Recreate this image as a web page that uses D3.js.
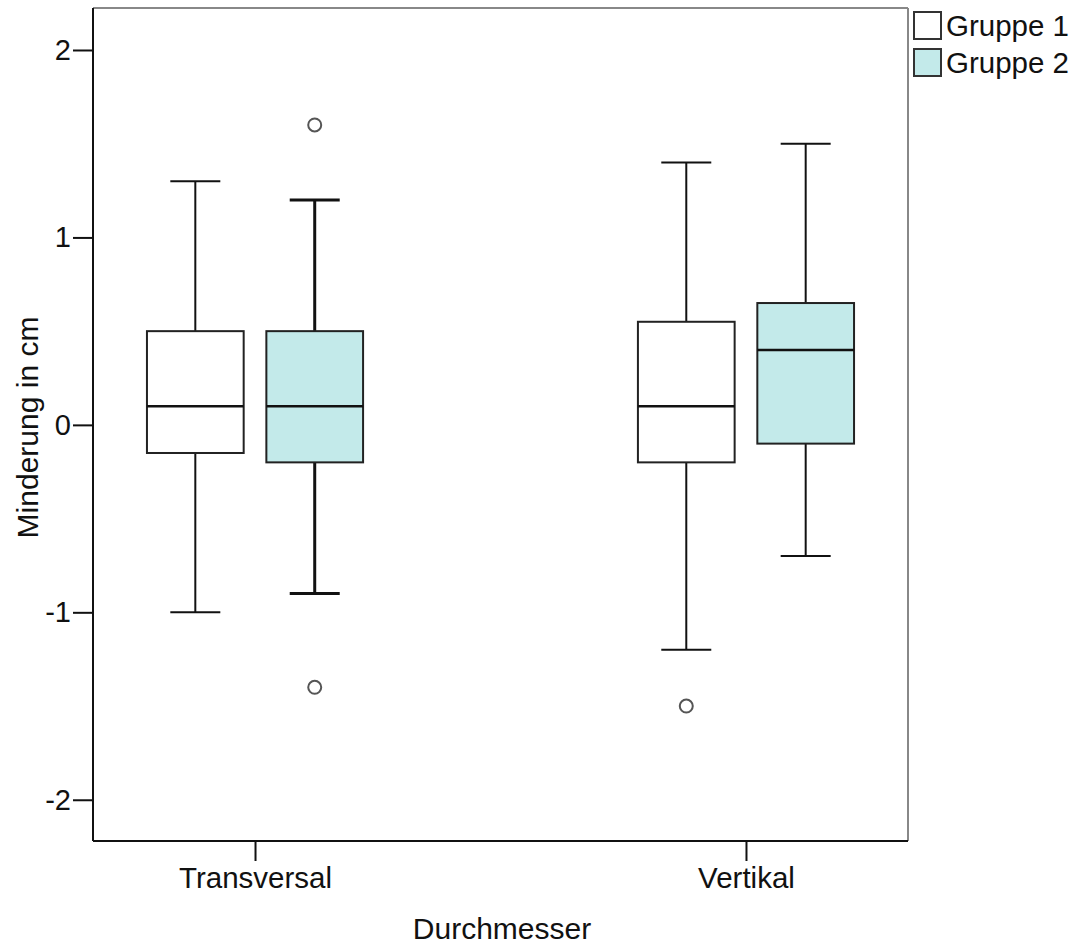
<!DOCTYPE html>
<html>
<head>
<meta charset="utf-8">
<script src="https://cdn.jsdelivr.net/npm/d3@7"></script>
<style>
  html, body { margin: 0; padding: 0; background: #fff; }
  svg { display: block; font-family: "Liberation Sans", Arial, sans-serif; }
</style>
</head>
<body>
<svg id="chart" width="1081" height="947"></svg>
<script>
// Categories and groups
const categories = ["Transversal", "Vertikal"];
const groups = ["Gruppe 1", "Gruppe 2"];
const groupColors = ["#ffffff", "#c3eaea"];
const yTicks = [-2, -1, 0, 1, 2];

// Box statistics per category (Gruppe 1, Gruppe 2): [min, q1, median, q3, max]
const transversalStats = [
  [-1.0, -0.15, 0.1, 0.5, 1.3],
  [-0.9, -0.2, 0.1, 0.5, 1.2]
];
const vertikalStats = [
  [-1.2, -0.2, 0.1, 0.55, 1.4],
  [-0.7, -0.1, 0.4, 0.65, 1.5]
];
// Outliers per category and group
const transversalOutliers = [[], [1.6, -1.4]];
const vertikalOutliers = [[-1.5], []];

const statsByCategory = [transversalStats, vertikalStats];
const outliersByCategory = [transversalOutliers, vertikalOutliers];

const rows = [];
categories.forEach((c, ci) => {
  groups.forEach((g, gi) => {
    const s = statsByCategory[ci][gi];
    rows.push({
      category: c, group: g, gi,
      min: s[0], q1: s[1], median: s[2], q3: s[3], max: s[4],
      outliers: outliersByCategory[ci][gi]
    });
  });
});

const svg = d3.select("#chart");
const plot = { left: 93, right: 908, top: 8, bottom: 841 };

const y = d3.scaleLinear().domain([-2.22, 2.224]).range([plot.bottom, plot.top]);
const x = d3.scalePoint().domain(categories).range([plot.left, plot.right]).padding(0.33);
const xg = d3.scaleBand().domain(groups).range([-120, 120]).paddingInner(0.19).paddingOuter(0.1);

const capWidth = 50;
const boxW = xg.bandwidth();

// Frame: top and right in grey
svg.append("line").attr("x1", plot.left).attr("x2", plot.right).attr("y1", plot.top).attr("y2", plot.top)
  .attr("stroke", "#888").attr("stroke-width", 2);
svg.append("line").attr("x1", plot.right).attr("x2", plot.right).attr("y1", plot.top).attr("y2", plot.bottom)
  .attr("stroke", "#888").attr("stroke-width", 2);

// Boxes
const gBoxes = svg.append("g");
rows.forEach(d => {
  const cx = x(d.category) + xg(d.group) + boxW / 2;
  const sw = d.category === "Transversal" && d.gi === 1 ? 3 : 2;
  const g = gBoxes.append("g");
  // whiskers
  g.append("line").attr("x1", cx).attr("x2", cx).attr("y1", y(d.q3)).attr("y2", y(d.max))
    .attr("stroke", "#111").attr("stroke-width", sw);
  g.append("line").attr("x1", cx).attr("x2", cx).attr("y1", y(d.q1)).attr("y2", y(d.min))
    .attr("stroke", "#111").attr("stroke-width", sw);
  [d.min, d.max].forEach(v => {
    g.append("line").attr("x1", cx - capWidth / 2).attr("x2", cx + capWidth / 2)
      .attr("y1", y(v)).attr("y2", y(v)).attr("stroke", "#111").attr("stroke-width", sw);
  });
  // box
  g.append("rect").attr("x", cx - boxW / 2).attr("y", y(d.q3))
    .attr("width", boxW).attr("height", y(d.q1) - y(d.q3))
    .attr("fill", groupColors[d.gi]).attr("stroke", "#222").attr("stroke-width", 2);
  // median
  g.append("line").attr("x1", cx - boxW / 2).attr("x2", cx + boxW / 2)
    .attr("y1", y(d.median)).attr("y2", y(d.median)).attr("stroke", "#111").attr("stroke-width", 2.5);
  // outliers
  d.outliers.forEach(v => {
    g.append("circle").attr("cx", cx).attr("cy", y(v)).attr("r", 6.5)
      .attr("fill", "#fff").attr("stroke", "#555").attr("stroke-width", 2);
  });
});

// Y axis (plain hyphen for negative values)
const yAxis = svg.append("g").attr("transform", `translate(${plot.left},0)`)
  .call(d3.axisLeft(y).tickValues(yTicks).tickFormat(d => String(d)).tickSize(20).tickSizeOuter(0));
yAxis.select(".domain").attr("stroke", "#111").attr("stroke-width", 2)
  .attr("d", `M0,${plot.top}V${plot.bottom}`);
yAxis.selectAll(".tick line").attr("stroke", "#111").attr("stroke-width", 2);
yAxis.selectAll(".tick text").attr("font-size", 29).attr("fill", "#111").attr("x", -22)
  .attr("font-family", "Liberation Sans, Arial, sans-serif");

// X axis
const xAxis = svg.append("g").attr("transform", `translate(0,${plot.bottom})`)
  .call(d3.axisBottom(x).tickSize(20).tickSizeOuter(0).tickPadding(6));
xAxis.select(".domain").attr("stroke", "#111").attr("stroke-width", 2)
  .attr("d", `M${plot.left},0H${plot.right}`);
xAxis.selectAll(".tick line").attr("stroke", "#111").attr("stroke-width", 2);
xAxis.selectAll(".tick text").attr("font-size", 29.5).attr("fill", "#111")
  .attr("font-family", "Liberation Sans, Arial, sans-serif");

// Axis titles
svg.append("text").attr("transform", `translate(38,${(plot.top + plot.bottom) / 2 + 3}) rotate(-90)`)
  .attr("text-anchor", "middle").attr("font-size", 30).attr("fill", "#111").text("Minderung in cm");
svg.append("text").attr("x", 502).attr("y", 939).attr("text-anchor", "middle")
  .attr("font-size", 30).attr("fill", "#111").text("Durchmesser");

// Legend
const legend = svg.append("g").attr("transform", "translate(914,12)");
groups.forEach((g, i) => {
  const row = legend.append("g").attr("transform", `translate(0,${i * 37})`);
  row.append("rect").attr("x", 0).attr("y", 0).attr("width", 27).attr("height", 27)
    .attr("fill", groupColors[i]).attr("stroke", "#333").attr("stroke-width", 2);
  row.append("text").attr("x", 32).attr("y", 24).attr("font-size", 29.5).attr("fill", "#111").text(g);
});
</script>
</body>
</html>
